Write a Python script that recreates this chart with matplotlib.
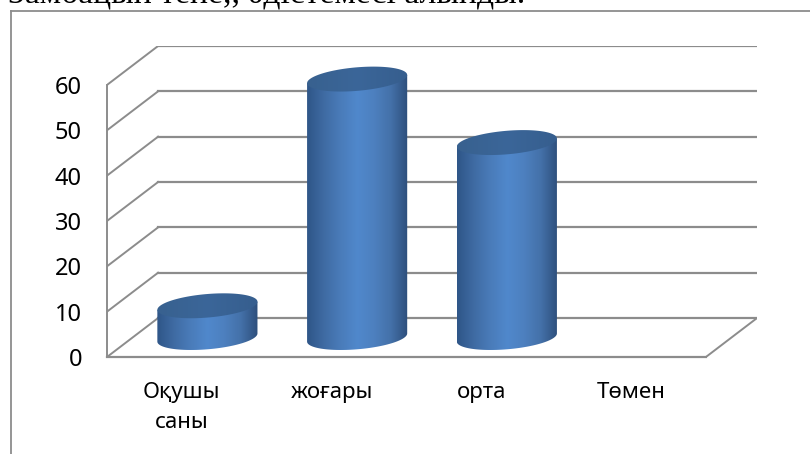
import numpy as np
import matplotlib.pyplot as plt
from matplotlib.colors import LinearSegmentedColormap
from matplotlib.patches import PathPatch
from matplotlib.path import Path

# values
categories = ['Оқушы\nсаны', 'жоғары', 'орта', 'Төмен']
values = [7, 57, 43, 0]
y_ticks = [0, 10, 20, 30, 40, 50, 60]
title = 'Замбацын тепе,, әдістемесі алынды.'

W, H = 810, 454
fig = plt.figure(figsize=(W / 100, H / 100), dpi=100)

# axes box goes from the front corner to the far back corner of the 3d box
left, right, top, bottom = 107, 757, 46, 357
ax = fig.add_axes([left / W, 1 - bottom / H, (right - left) / W, (bottom - top) / H])

# scales: 149.5 px per category, 4.54 px per unit
depth_x = 51 / 149.5
depth_y = 39 / 4.54
ax.set_xlim(-0.5, 3.5 + depth_x)
ax.set_ylim(0, 60 + depth_y)

line_col = '#8c8c8c'
for v in y_ticks:
    ax.plot([-0.5, -0.5 + depth_x], [v, v + depth_y], color=line_col, lw=1.4, zorder=1)
    ax.plot([-0.5 + depth_x, 3.5 + depth_x], [v + depth_y, v + depth_y], color=line_col, lw=1.6, zorder=1)
ax.plot([3.5, 3.5 + depth_x], [0, depth_y], color=line_col, lw=1.4, zorder=1)

for s in ['top', 'right']:
    ax.spines[s].set_visible(False)
ax.spines['left'].set_bounds(0, 60)
ax.spines['bottom'].set_bounds(-0.5, 3.5)
ax.spines['left'].set_color(line_col)
ax.spines['bottom'].set_color(line_col)
ax.spines['left'].set_linewidth(1.4)
ax.spines['bottom'].set_linewidth(1.6)

font = 'Noto Sans'
ax.set_yticks(y_ticks)
ax.set_yticklabels([str(v) for v in y_ticks], fontsize=17, family=font, color='black')
ax.set_xticks(range(len(categories)))
ax.set_xticklabels(categories, fontsize=16, family=font, color='black', linespacing=1.55)
ax.tick_params(axis='y', length=0, pad=18)
ax.tick_params(axis='x', length=0, pad=18)

# cylinders
side_cmap = LinearSegmentedColormap.from_list('side', ['#2f5688', '#3f6ba3', '#4a7cba', '#5088cc', '#4d80bf', '#4471a9', '#2e4f7c'])
top_cmap = LinearSegmentedColormap.from_list('lid', ['#38618f', '#3b6699', '#365e8e'])

r_x = 0.316        # half width of the lid, categories
lid_x = 0.64 * depth_x / 2
lid_y = 0.64 * depth_y / 2
half = np.hypot(r_x, lid_x)
t_edge = np.arctan2(lid_x, r_x)


def lid(cx, cy, t):
    return cx + r_x * np.cos(t) + lid_x * np.sin(t), cy + lid_y * np.sin(t)


def gradient(x0, x1, y0, y1, cmap, clip):
    im = ax.imshow(np.linspace(0, 1, 128).reshape(1, -1), extent=[x0, x1, y0, y1],
                   cmap=cmap, aspect='auto', zorder=3, interpolation='bilinear')
    patch = PathPatch(clip, transform=ax.transData, fc='none', ec='none')
    ax.add_patch(patch)
    im.set_clip_path(patch)


for i, v in enumerate(values):
    if v == 0:
        continue
    cx = i + depth_x / 2
    # front half of the base, then up to the lid edges
    bx, by = lid(cx, depth_y / 2, np.linspace(t_edge + np.pi, t_edge + 2 * np.pi, 80))
    ex, ey = lid(cx, v + depth_y / 2, np.array([t_edge, t_edge + np.pi]))
    body = np.column_stack([np.r_[bx, ex], np.r_[by, ey]])
    tx, ty = lid(cx, v + depth_y / 2, np.linspace(0, 2 * np.pi, 121))
    gradient(cx - half, cx + half, 0, v + depth_y, side_cmap, Path(np.vstack([body, body[:1]]), closed=True))
    gradient(cx - half, cx + half, 0, v + depth_y, top_cmap, Path(np.column_stack([tx, ty]), closed=True))

ax.set_xlim(-0.5, 3.5 + depth_x)
ax.set_ylim(0, 60 + depth_y)
ax.patch.set_visible(False)

# frame of the chart, cut by the picture edge
fig.add_artist(plt.Line2D([10.5 / W, 10.5 / W], [0, 1 - 10.5 / H], color='#8c8c8c', lw=1.3))
fig.add_artist(plt.Line2D([10.5 / W, 1], [1 - 10.5 / H, 1 - 10.5 / H], color='#8c8c8c', lw=1.3))

fig.text(8 / W, 1 - 3 / H, title, family='Liberation Serif', fontsize=24.3, color='black', va='baseline')

fig.savefig('out.png', dpi=100)
